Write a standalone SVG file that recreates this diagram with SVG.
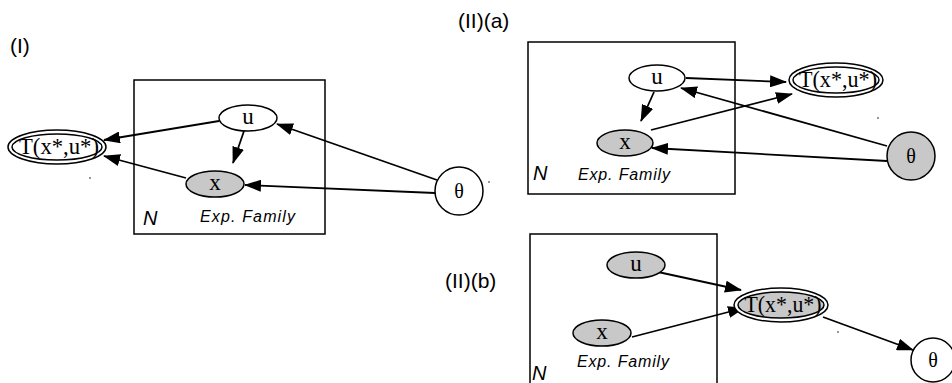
<svg xmlns="http://www.w3.org/2000/svg" width="952" height="383" viewBox="0 0 952 383">
<defs>
<marker id="ah" markerWidth="17" markerHeight="12" refX="16" refY="6" orient="auto" markerUnits="userSpaceOnUse"><path d="M0,0 L17,6 L0,12 Z" fill="#000"/></marker>
<style>
.box{fill:none;stroke:#000;stroke-width:1.5}
.n{stroke:#000;stroke-width:1.5;fill:#fff}
.g{fill:#c8c8c8}
.lbl{font-family:"Liberation Serif",serif;font-size:23px;text-anchor:middle;dominant-baseline:central}
.th{font-size:20px}
.pl{font-family:"Liberation Sans",Arial,sans-serif;font-size:21px}
.it{font-family:"Liberation Sans",Arial,sans-serif;font-style:italic}
.e{stroke:#000;stroke-width:1.8;fill:none;marker-end:url(#ah)}
.dot{fill:#666}
</style>
</defs>
<rect width="952" height="383" fill="#fff"/>
<text class="pl" x="10" y="53">(I)</text>
<text class="pl" x="458" y="28">(II)(a)</text>
<text class="pl" x="445" y="288">(II)(b)</text>

<g id="plate-I"><rect class="box" x="134" y="80" width="191" height="154"/><text class="it" x="143" y="225" font-size="20">N</text><text class="it" x="200" y="222" font-size="16" textLength="95" lengthAdjust="spacing">Exp. Family</text></g>
<g id="plate-IIa"><rect class="box" x="528" y="42" width="207" height="152"/><text class="it" x="533" y="180" font-size="20">N</text><text class="it" x="578" y="180" font-size="16" textLength="92" lengthAdjust="spacing">Exp. Family</text></g>
<g id="plate-IIb"><rect class="box" x="530" y="234" width="187" height="160"/><text class="it" x="532" y="380" font-size="20">N</text><text class="it" x="577" y="367" font-size="16" textLength="92" lengthAdjust="spacing">Exp. Family</text></g>

<g id="connectors">
<line class="e" x1="219" y1="121" x2="104" y2="140"/>
<line class="e" x1="186" y1="178" x2="104" y2="156"/>
<line class="e" x1="244" y1="131" x2="233" y2="163"/>
<line class="e" x1="437" y1="180" x2="277" y2="124"/>
<line class="e" x1="435" y1="193" x2="245" y2="185"/>
<line class="e" x1="686" y1="78" x2="786" y2="82"/>
<line class="e" x1="651" y1="130" x2="792" y2="94"/>
<line class="e" x1="887" y1="146" x2="681" y2="88"/>
<line class="e" x1="887" y1="161" x2="652" y2="148"/>
<line class="e" x1="654" y1="92" x2="641" y2="121"/>
<line class="e" x1="658" y1="272" x2="741" y2="290"/>
<line class="e" x1="632" y1="337" x2="744" y2="308"/>
<line class="e" x1="823" y1="317" x2="913" y2="350"/>
</g>

<g id="I-u"><ellipse class="n" cx="248" cy="118" rx="29" ry="13"/><text class="lbl" x="248" y="116">u</text></g>
<g id="I-x"><ellipse class="n g" cx="215" cy="184" rx="29" ry="13"/><text class="lbl" x="215" y="182">x</text></g>
<g id="I-T"><ellipse class="n" cx="57" cy="147" rx="49" ry="17"/><ellipse class="n" cx="57" cy="147" rx="45" ry="13"/><text class="lbl" x="59" y="146" font-size="21" textLength="80" lengthAdjust="spacingAndGlyphs">T(x*,u*)</text></g>
<g id="I-theta"><circle class="n" cx="459" cy="191" r="24"/><text class="lbl th" x="459" y="191">θ</text></g>

<g id="IIa-u"><ellipse class="n" cx="657" cy="78" rx="28" ry="13"/><text class="lbl" x="657" y="76">u</text></g>
<g id="IIa-x"><ellipse class="n g" cx="625" cy="143" rx="28" ry="13"/><text class="lbl" x="625" y="141">x</text></g>
<g id="IIa-T"><ellipse class="n" cx="836" cy="80" rx="47" ry="17"/><ellipse class="n" cx="836" cy="80" rx="43" ry="13"/><text class="lbl" x="838" y="79" font-size="21" textLength="78" lengthAdjust="spacingAndGlyphs">T(x*,u*)</text></g>
<g id="IIa-theta"><circle class="n g" cx="911" cy="156" r="24"/><text class="lbl th" x="911" y="156">θ</text></g>

<g id="IIb-u"><ellipse class="n g" cx="636" cy="265" rx="29" ry="13"/><text class="lbl" x="636" y="263">u</text></g>
<g id="IIb-x"><ellipse class="n g" cx="602" cy="333" rx="29" ry="13"/><text class="lbl" x="602" y="331">x</text></g>
<g id="IIb-T"><ellipse class="n" cx="781" cy="305" rx="47" ry="17"/><ellipse class="n g" cx="781" cy="305" rx="43" ry="13"/><text class="lbl" x="783" y="304" font-size="21" textLength="77" lengthAdjust="spacingAndGlyphs">T(x*,u*)</text></g>
<g id="IIb-theta"><circle class="n" cx="933" cy="360" r="22"/><text class="lbl th" x="933" y="360">θ</text></g>

<circle class="dot" cx="90" cy="178" r="0.9"/>
<circle class="dot" cx="489" cy="182" r="0.9"/>
<circle class="dot" cx="878" cy="118" r="0.9"/>
<circle class="dot" cx="838" cy="332" r="0.9"/>
</svg>
